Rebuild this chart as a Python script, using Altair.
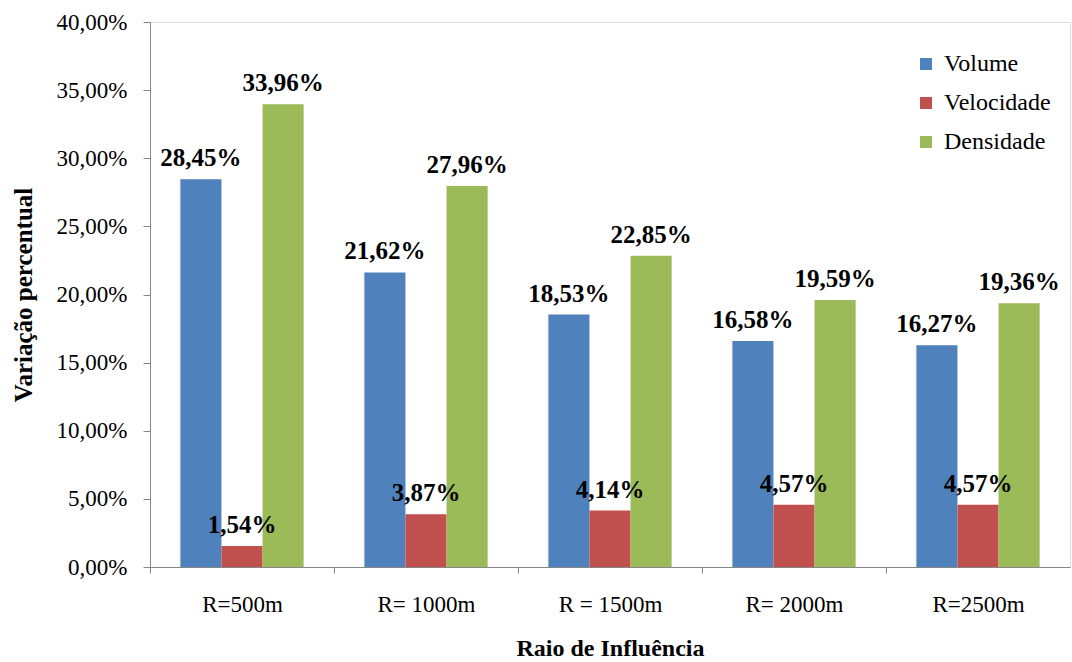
import altair as alt
import pandas as pd

categorias = ["R=500m", "R= 1000m", "R = 1500m", "R= 2000m", "R=2500m"]
series = ["Volume", "Velocidade", "Densidade"]
volume = [28.45, 21.62, 18.53, 16.58, 16.27]
velocidade = [1.54, 3.87, 4.14, 4.57, 4.57]
densidade = [33.96, 27.96, 22.85, 19.59, 19.36]
cores = ["#4F81BD", "#C0504D", "#9BBB59"]
y_ticks = [0, 5, 10, 15, 20, 25, 30, 35, 40]

rows = []
for s, vals in zip(series, [volume, velocidade, densidade]):
    for c, v in zip(categorias, vals):
        rows.append({"cat": c, "serie": s, "valor": v})
df = pd.DataFrame(rows)

FONT = "'Times New Roman', 'Liberation Serif', 'DejaVu Serif', serif"

x = alt.X("cat:N", sort=categorias, title="Raio de Influência",
          scale=alt.Scale(paddingInner=0.33, paddingOuter=0.165),
          axis=alt.Axis(labelAngle=0, tickOffset=-92, labelOffset=92, tickSize=6,
                        domainColor="#868686", tickColor="#868686", labelFont=FONT,
                        labelFontSize=23, labelColor="black", labelPadding=20,
                        titleFont=FONT, titleFontSize=24, titleFontWeight="bold",
                        titleColor="black", titlePadding=20))
xo = alt.XOffset("serie:N", sort=series)
y = alt.Y("valor:Q", title="Variação percentual",
          scale=alt.Scale(domain=[0, 40], nice=False),
          axis=alt.Axis(values=y_ticks, grid=False, tickSize=7, domainColor="#868686",
                        tickColor="#868686", labelFont=FONT, labelFontSize=23,
                        labelColor="black", labelPadding=16,
                        labelExpr="replace(format(datum.value, '.2f'), '.', ',') + '%'",
                        titleFont=FONT, titleFontSize=25, titleFontWeight="bold",
                        titleColor="black", titlePadding=20))

color = alt.Color("serie:N", sort=series,
                  scale=alt.Scale(domain=series, range=cores),
                  legend=alt.Legend(title=None, orient="none", legendX=764, legendY=30,
                                    symbolType="square", symbolSize=144,
                                    symbolStrokeWidth=0, labelFont=FONT,
                                    labelFontSize=24, labelColor="black",
                                    rowPadding=15, labelOffset=6, padding=0))

base = alt.Chart(df)
bars = base.mark_bar().encode(x=x, xOffset=xo, y=y, color=color)
labels = base.transform_calculate(
    label="replace(format(datum.valor, '.2f'), '.', ',') + '%'"
).mark_text(baseline="bottom", dy=-8, font=FONT, fontSize=25, fontWeight="bold",
            color="black").encode(x=x, xOffset=xo, y=y, text="label:N")

chart = alt.layer(bars, labels).properties(
    width=920, height=545,
    autosize=alt.AutoSizeParams(type="none"),
    padding={"left": 150, "top": 22, "right": 2, "bottom": 95},
).configure_view(stroke=None).configure(background="white", font=FONT).configure_axis(
    labelFont=FONT, titleFont=FONT).configure_legend(labelFont=FONT)

chart.save("out.html", embed_options={"renderer": "svg", "actions": False})
